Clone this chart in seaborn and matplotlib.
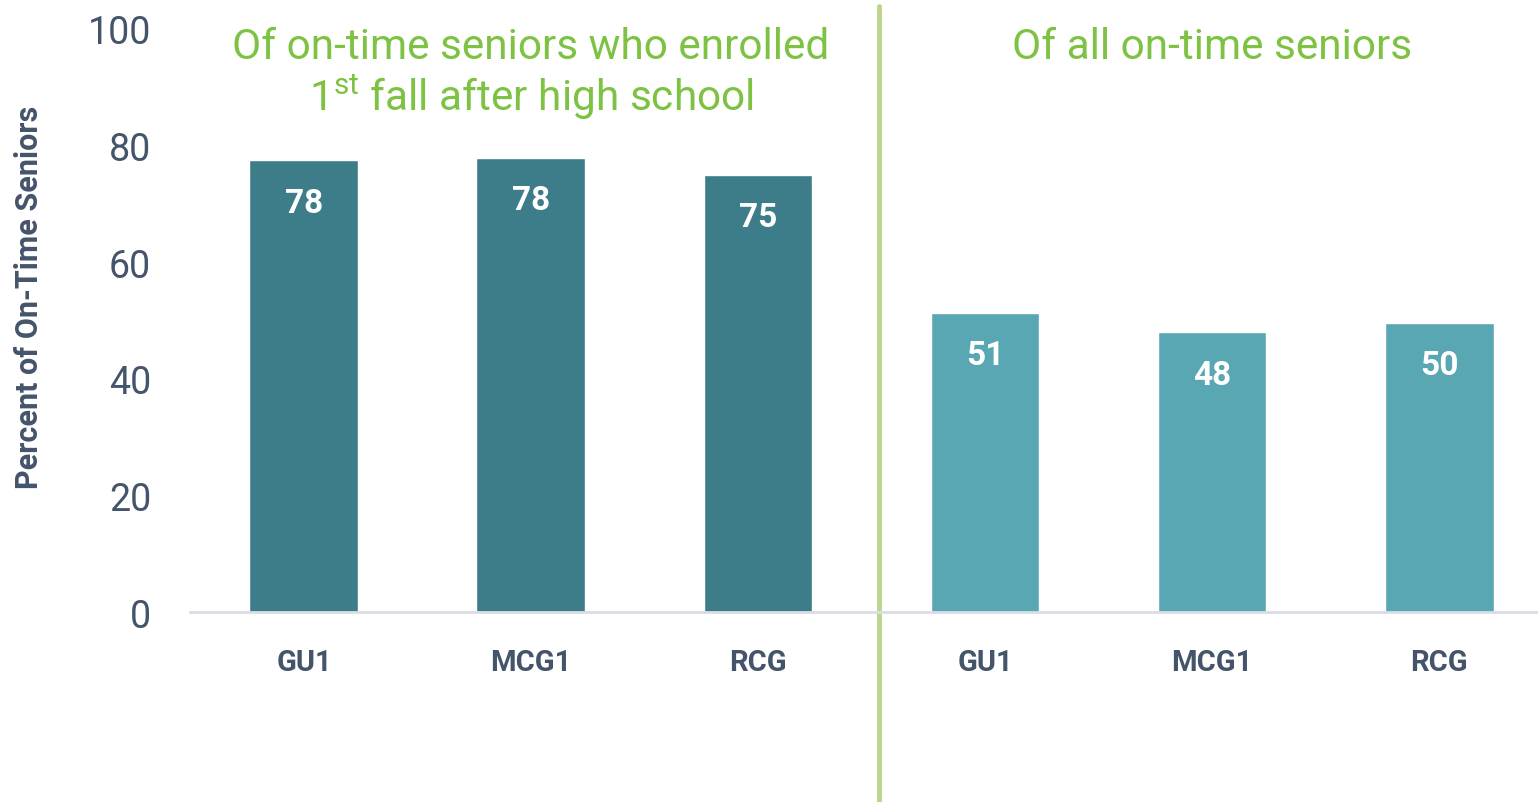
import pandas as pd
import matplotlib.pyplot as plt
import seaborn as sns

# Data
schools = ['GU1', 'MCG1', 'RCG']
enrolled_pct = [77.5, 77.9, 75.0]
all_pct = [51.3, 48.0, 49.6]
groups = ['Of on-time seniors who enrolled\n1$^{\\mathrm{st}}$ fall after high school',
          'Of all on-time seniors']

dark = '#3D7D89'
light = '#5AA7B4'
green = '#7DC242'
divider = '#BCD48C'
ink = '#44546A'

sns.set_theme(style='white')
plt.rcParams['font.family'] = ['Roboto', 'DejaVu Sans']
plt.rcParams['mathtext.fontset'] = 'custom'
plt.rcParams['mathtext.rm'] = 'Roboto'

rows = []
for i, s in enumerate(schools):
    rows.append({'key': 'a' + s, 'school': s, 'group': 'enrolled', 'value': enrolled_pct[i]})
for i, s in enumerate(schools):
    rows.append({'key': 'b' + s, 'school': s, 'group': 'all', 'value': all_pct[i]})
df = pd.DataFrame(rows)

fig = plt.figure(figsize=(15.38, 8.03), dpi=100)
ax = fig.add_axes([190 / 1538, 1 - 613 / 803, 1 - 190 / 1538, 583 / 803])

sns.barplot(data=df, x='key', y='value', hue='group', dodge=False,
            palette={'enrolled': dark, 'all': light}, width=0.48,
            saturation=1, legend=False, ax=ax)

# value labels inside bars
for i, v in enumerate(df['value']):
    ax.text(i, v - 7.3, f'{round(v):.0f}', ha='center', va='center',
            color='white', fontsize=24, fontweight='bold')

ax.set_xlim(-0.502, 5.436)
ax.set_ylim(0, 100)
ax.set_yticks([0, 20, 40, 60, 80, 100])
ax.tick_params(axis='y', labelsize=27, labelcolor=ink, length=0, pad=28)
ax.set_xticks(range(len(df)))
ax.set_xticklabels(df['school'], fontsize=21, fontweight='bold', color=ink)
ax.tick_params(axis='x', length=0, pad=26)
ax.set_xlabel('')
ax.set_ylabel('Percent of On-Time Seniors', fontsize=22, fontweight='bold',
              color=ink)
ax.yaxis.set_label_coords(-0.108, 0.542)

sns.despine(ax=ax, left=True, top=True, right=True)
ax.spines['bottom'].set_color('#D9DEE5')
ax.spines['bottom'].set_linewidth(2)

# section divider and headings
ax.axvline(2.533, ymin=-0.33, ymax=1.04, color=divider, lw=3.5, clip_on=False)
ax.text(1.0, 92.3, groups[0], ha='center', va='center', color=green,
        fontsize=30.5, linespacing=1.12)
ax.text(4.0, 97.0, groups[1], ha='center', va='center', color=green, fontsize=30.5)

fig.savefig('out.png', dpi=100)
